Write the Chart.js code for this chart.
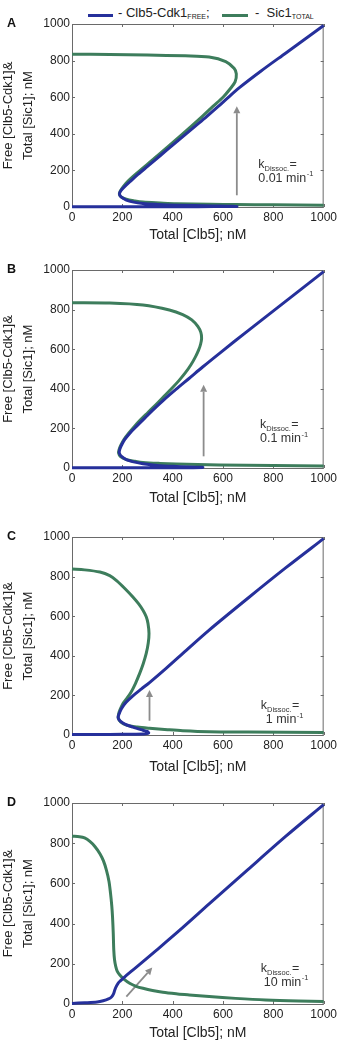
<!DOCTYPE html>
<html><head><meta charset="utf-8">
<script src="https://cdn.jsdelivr.net/npm/chart.js@4"></script>
<style>
html,body{margin:0;padding:0;background:#fff;}
body{width:340px;height:1042px;position:relative;overflow:hidden;font-family:"Liberation Sans",Arial,sans-serif;}
.cv{position:absolute;left:0;width:340px;}
.leg{position:absolute;font-size:13px;color:#222;white-space:nowrap;line-height:13px;}
.sw{position:absolute;height:3px;}
.leg sub{font-size:7px;vertical-align:baseline;position:relative;top:2px;}
</style></head><body>
<div class="sw" style="left:88px;top:14px;width:25px;background:#26309b"></div>
<div class="leg" style="left:118px;top:6px">- Clb5-Cdk1<sub>FREE</sub>;</div>
<div class="sw" style="left:222px;top:14px;width:26px;background:#3d7d5c"></div>
<div class="leg" style="left:255px;top:6px">-&nbsp; Sic1<sub>TOTAL</sub></div>
<div id="pA" class="cv" style="top:12px;height:232px"><canvas id="cA"></canvas></div>
<div id="pB" class="cv" style="top:258px;height:249px"><canvas id="cB"></canvas></div>
<div id="pC" class="cv" style="top:525px;height:251px"><canvas id="cC"></canvas></div>
<div id="pD" class="cv" style="top:791px;height:251px"><canvas id="cD"></canvas></div>
<script>
// ---------- data ----------
const xTickValues = [0, 200, 400, 600, 800, 1000];
const xTickLabels = ['0', '200', '400', '600', '800', '1000'];
const yTickValues = [0, 200, 400, 600, 800, 1000];
const yTickLabels = ['0', '200', '400', '600', '800', '1000'];
const xTitle = 'Total [Clb5]; nM';
const yTitle = ['Free [Clb5-Cdk1]&', 'Total [Sic1]; nM'];
const panelLetters = ['A', 'B', 'C', 'D'];
const kValues = ['0.01', '0.1', '1', '10'];

const blueA = [[0,1],[300,1],[500,2],[655,3],[560,6],[414,10],[340,14],[282,19],[240,28],[216,38],[200,50],[191,62],[189,75],[196,92],[208,110],[230,138],[262,178],[300,222],[350,280],[400,338],[445,390],[490,442],[535,494],[580,548],[620,598],[664,651],[750,742],[850,842],[1000,992]];
const greenA = [[0,835],[150,834],[300,830],[450,826],[545,820],[611,795],[644,758],[653,728],[648,684],[628,645],[600,600],[560,550],[519,497],[432,390],[340,280],[252,178],[220,138],[203,110],[192,88],[188,72],[195,55],[216,42],[250,33],[282,27],[350,22],[414,18],[550,15],[651,13],[800,12],[1000,10]];

const blueB = [[0,1],[300,1],[519,3],[414,8],[340,13],[282,22],[240,32],[216,42],[198,57],[189,72],[188,86],[195,110],[209,143],[230,176],[256,210],[290,253],[321,292],[365,344],[414,398],[465,452],[519,510],[585,578],[700,694],[850,843],[1000,992]];
const greenB = [[0,835],[150,833],[282,823],[387,798],[440,775],[476,748],[500,715],[512,685],[515,655],[511,625],[503,595],[490,560],[472,520],[450,480],[424,440],[395,400],[362,357],[330,315],[300,278],[272,243],[248,210],[226,177],[207,145],[194,115],[187,92],[185,76],[193,57],[216,42],[250,34],[282,28],[350,23],[414,20],[585,15],[800,12],[1000,10]];

const blueC = [[0,2],[150,3],[250,4],[292,6],[305,11],[298,18],[282,24],[242,40],[210,55],[192,70],[184,84],[184,95],[189,112],[197,134],[215,165],[242,198],[275,232],[308,265],[375,338],[454,428],[545,530],[700,692],[850,845],[1000,992]];
const greenC = [[0,838],[50,834],[111,823],[150,805],[177,780],[210,740],[242,697],[265,662],[282,630],[295,597],[302,563],[306,513],[303,465],[295,412],[283,360],[269,311],[252,260],[234,215],[218,185],[202,158],[191,128],[185,105],[184,86],[193,66],[216,50],[260,40],[308,34],[380,27],[440,22],[545,17],[700,15],[1000,12]];

const blueD = [[0,3],[50,6],[100,10],[124,16],[145,25],[157,35],[165,50],[170,70],[176,88],[183,103],[192,115],[203,128],[235,162],[269,197],[335,267],[427,366],[545,498],[700,670],[850,835],[1000,992]];
const greenD = [[0,835],[30,832],[50,826],[71,809],[90,785],[111,748],[125,712],[137,665],[147,610],[153,552],[158,490],[161,435],[164,350],[166,269],[169,220],[174,186],[180,162],[190,144],[205,125],[229,103],[255,88],[282,78],[320,67],[361,58],[420,50],[466,45],[545,37],[650,28],[769,20],[900,15],[1000,13]];

const arrowA = [[655,64],[655,551]];
const arrowB = [[523,59],[523,420]];
const arrowC = [[308,72],[308,227]];
const arrowD = [[216,37],[319,181]];

// note anchors (data units): [x line1, baseline y line1, x line2, baseline y line2]
const noteA = [740,213,740,139];
const noteB = [747,202,747,131];
const noteC = [750,131,770,59];
const noteD = [750,161,762,91];

// ---------- style ----------
const BLUE = '#26309b', GREEN = '#3d7d5c', ARROW = '#8c8c8c', AXIS = '#6a6a6a', TXT = '#222';
const FONT = '"Liberation Sans", Arial, sans-serif';

const deco = {
  id: 'deco',
  beforeDatasetsDraw(chart, args, opts) {
    const {ctx, chartArea: a} = chart;
    const xs = chart.scales.x, ys = chart.scales.y;
    ctx.save();
    ctx.strokeStyle = AXIS; ctx.lineWidth = 1;
    ctx.strokeRect(a.left + 0.5, a.top + 0.5, a.right - a.left - 1, a.bottom - a.top);
    ctx.beginPath();
    xTickValues.forEach(v => {
      const p = Math.round(xs.getPixelForValue(v)) + 0.5;
      ctx.moveTo(p, a.bottom); ctx.lineTo(p, a.bottom - 3);
      ctx.moveTo(p, a.top); ctx.lineTo(p, a.top + 3);
    });
    yTickValues.forEach(v => {
      const p = Math.round(ys.getPixelForValue(v)) + 0.5;
      ctx.moveTo(a.left, p); ctx.lineTo(a.left + 3, p);
      ctx.moveTo(a.right, p); ctx.lineTo(a.right - 3, p);
    });
    ctx.stroke();
    // arrow
    const [p0, p1] = opts.arrow;
    const x0 = xs.getPixelForValue(p0[0]), y0 = ys.getPixelForValue(p0[1]);
    const x1 = xs.getPixelForValue(p1[0]), y1 = ys.getPixelForValue(p1[1]);
    const ang = Math.atan2(y1 - y0, x1 - x0);
    const hl = 7, hw = 3.5;
    ctx.strokeStyle = ARROW; ctx.fillStyle = ARROW; ctx.lineWidth = 1.8;
    ctx.beginPath();
    ctx.moveTo(x0, y0);
    ctx.lineTo(x1 - hl * Math.cos(ang), y1 - hl * Math.sin(ang));
    ctx.stroke();
    ctx.beginPath();
    ctx.moveTo(x1, y1);
    ctx.lineTo(x1 - hl * Math.cos(ang) + hw * Math.sin(ang), y1 - hl * Math.sin(ang) - hw * Math.cos(ang));
    ctx.lineTo(x1 - hl * Math.cos(ang) - hw * Math.sin(ang), y1 - hl * Math.sin(ang) + hw * Math.cos(ang));
    ctx.closePath(); ctx.fill();
    // note text
    const n = opts.note;
    ctx.fillStyle = '#333'; ctx.textAlign = 'left'; ctx.textBaseline = 'alphabetic';
    const nx1 = xs.getPixelForValue(n[0]), nb1 = ys.getPixelForValue(n[1]);
    const nx2 = xs.getPixelForValue(n[2]), nb2 = ys.getPixelForValue(n[3]);
    ctx.font = '12.5px ' + FONT;
    ctx.fillText('k', nx1, nb1);
    let w = ctx.measureText('k').width;
    ctx.font = '7.5px ' + FONT;
    ctx.fillText('Dissoc.', nx1 + w, nb1 + 3);
    w += ctx.measureText('Dissoc.').width;
    ctx.font = '12.5px ' + FONT;
    ctx.fillText('=', nx1 + w + 0.5, nb1);
    const t = opts.k + ' min';
    ctx.fillText(t, nx2, nb2);
    const w2 = ctx.measureText(t).width;
    ctx.font = '7.5px ' + FONT;
    ctx.fillText('-1', nx2 + w2 + 0.5, nb2 - 5.5);
    // panel letter
    ctx.fillStyle = '#111';
    ctx.font = 'bold 12.5px ' + FONT;
    ctx.fillText(opts.letter, 7, a.top + 3);
    ctx.restore();
  }
};

function makeChart(id, blue, green, arrow, note, k, letter, xH) {
  const toPts = arr => arr.map(p => ({x: p[0], y: p[1]}));
  return new Chart(document.getElementById(id), {
    type: 'scatter',
    data: {
      datasets: [
        {label: 'Clb5-Cdk1 FREE', data: toPts(blue), showLine: true, borderColor: BLUE, borderWidth: 3, pointRadius: 0, tension: 0.3, clip: 5, fill: false},
        {label: 'Sic1 TOTAL', data: toPts(green), showLine: true, borderColor: GREEN, borderWidth: 3, pointRadius: 0, tension: 0.3, clip: 5, fill: false}
      ]
    },
    options: {
      responsive: true, maintainAspectRatio: false, animation: false,
      layout: {padding: {top: 12, right: 15, left: 0, bottom: 0}},
      plugins: {legend: {display: false}, tooltip: {enabled: false},
        deco: {arrow, note, k, letter}},
      scales: {
        x: {
          type: 'linear', min: xTickValues[0], max: xTickValues[xTickValues.length - 1],
          afterBuildTicks: s => { s.ticks = xTickValues.map(v => ({value: v})); },
          afterFit: s => { s.height = xH; },
          grid: {display: false, drawTicks: false}, border: {display: false},
          ticks: {color: TXT, font: {family: FONT, size: 12}, padding: 3, maxRotation: 0, autoSkip: false,
            callback: (v, i) => xTickLabels[i]},
          title: {display: true, text: xTitle, color: TXT, font: {family: FONT, size: 14, lineHeight: 1.2}, padding: {top: 0, bottom: 0.6}}
        },
        y: {
          type: 'linear', min: yTickValues[0], max: yTickValues[yTickValues.length - 1],
          afterBuildTicks: s => { s.ticks = yTickValues.map(v => ({value: v})); },
          afterFit: s => { s.width = 72; },
          grid: {display: false, drawTicks: false}, border: {display: false},
          ticks: {color: TXT, font: {family: FONT, size: 12}, padding: 2, autoSkip: false,
            callback: (v, i) => yTickLabels[i]},
          title: {display: true, text: yTitle, color: TXT, font: {family: FONT, size: 13, lineHeight: 1.5}, padding: {top: -1.2, bottom: 0}}
        }
      }
    },
    plugins: [deco]
  });
}

makeChart('cA', blueA, greenA, arrowA, noteA, kValues[0], panelLetters[0], 37);
makeChart('cB', blueB, greenB, arrowB, noteB, kValues[1], panelLetters[1], 39);
makeChart('cC', blueC, greenC, arrowC, noteC, kValues[2], panelLetters[2], 41);
makeChart('cD', blueD, greenD, arrowD, noteD, kValues[3], panelLetters[3], 38);
</script>
</body></html>
